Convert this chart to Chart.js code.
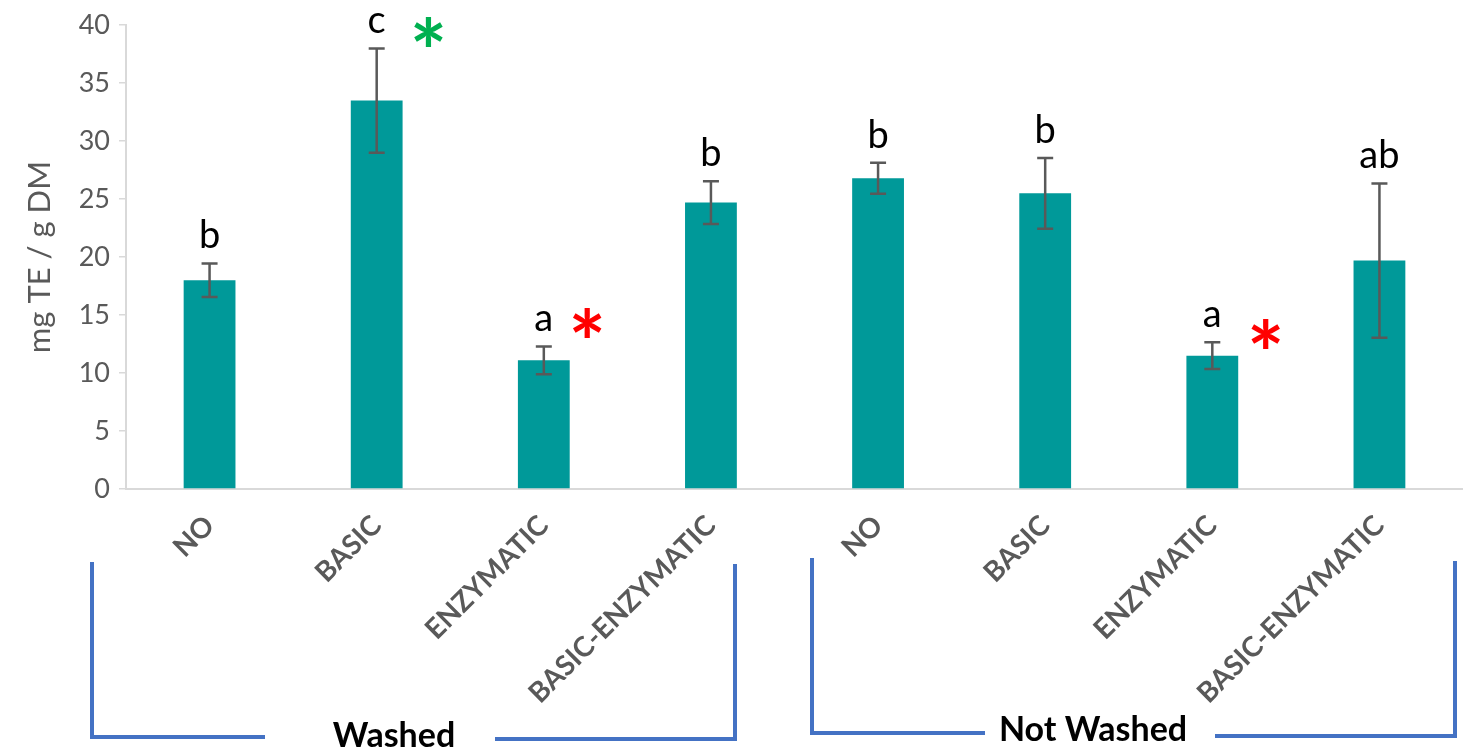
<!DOCTYPE html>
<html><head><meta charset="utf-8">
<script src="https://cdn.jsdelivr.net/npm/chart.js@4.4.1/dist/chart.umd.min.js"></script>
<style>html,body{margin:0;padding:0;background:#fff;overflow:hidden}
#wrap{position:relative;width:1463px;height:750px}</style>
</head><body><div id="wrap"><canvas id="c" width="1463" height="750"></canvas></div>
<script>
// ---- data ----
const categories = ['NO', 'BASIC', 'ENZYMATIC', 'BASIC-ENZYMATIC', 'NO', 'BASIC', 'ENZYMATIC', 'BASIC-ENZYMATIC'];
const means = [18.0, 33.5, 11.1, 24.7, 26.8, 25.5, 11.5, 19.7];
const errors = [1.45, 4.5, 1.2, 1.85, 1.33, 3.05, 1.15, 6.65];
const letters = ['b', 'c', 'a', 'b', 'b', 'b', 'a', 'ab'];
const yMin = 0, yMax = 40, yStep = 5;
const yTitle = 'mg TE / g DM';
const starIndex = [1, 2, 6];
const starValue = [39.4, 14.3, 13.4];
const starShift = [0.31, 0.26, 0.32];
const starColors = ['#00B050', '#FF0000', '#FF0000'];
const groupNames = ['Washed', 'Not Washed'];

const FONT = 'Lato';
const GREY = '#595959';

const annot = {
  id: 'annot',
  afterDatasetsDraw(chart) {
    const ctx = chart.ctx, xs = chart.scales.x, ys = chart.scales.y;
    ctx.save();
    // error bars
    ctx.strokeStyle = GREY; ctx.lineWidth = 2.5; ctx.lineCap = 'butt';
    means.forEach((m, i) => {
      const x = xs.getPixelForValue(i);
      const yt = ys.getPixelForValue(m + errors[i]);
      const yb = ys.getPixelForValue(m - errors[i]);
      ctx.beginPath();
      ctx.moveTo(x, yt); ctx.lineTo(x, yb);
      ctx.moveTo(x - 8, yt); ctx.lineTo(x + 8, yt);
      ctx.moveTo(x - 8, yb); ctx.lineTo(x + 8, yb);
      ctx.stroke();
    });
    // letters
    ctx.fillStyle = '#000'; ctx.font = '38px ' + FONT;
    ctx.textAlign = 'center'; ctx.textBaseline = 'alphabetic';
    letters.forEach((t, i) => {
      const x = xs.getPixelForValue(i);
      const yt = ys.getPixelForValue(means[i] + errors[i]);
      ctx.fillText(t, x, yt - 15);
    });
    // stars
    ctx.font = 'bold 88px ' + FONT;
    ctx.textAlign = 'center'; ctx.textBaseline = 'alphabetic';
    const m2 = ctx.measureText('*');
    const asc = m2.actualBoundingBoxAscent, desc = m2.actualBoundingBoxDescent;
    starIndex.forEach((ci, k) => {
      const cx = xs.getPixelForValue(ci + starShift[k]);
      const cy = ys.getPixelForValue(starValue[k]);
      ctx.fillStyle = starColors[k];
      ctx.fillText('*', cx, cy + (asc - desc) / 2);
    });
    // group brackets
    ctx.strokeStyle = '#4472C4'; ctx.lineWidth = 4; ctx.lineJoin = 'miter';
    const seg = (pts) => { ctx.beginPath(); ctx.moveTo(pts[0][0], pts[0][1]); for (let j = 1; j < pts.length; j++) ctx.lineTo(pts[j][0], pts[j][1]); ctx.stroke(); };
    seg([[92, 562], [92, 737], [265, 737]]);
    seg([[495, 739], [735, 739], [735, 564]]);
    seg([[812, 558], [812, 733], [985, 733]]);
    seg([[1215, 736], [1455, 736], [1455, 561]]);
    ctx.fillStyle = '#000'; ctx.font = 'bold 34px ' + FONT; ctx.textAlign = 'center'; ctx.textBaseline = 'alphabetic';
    ctx.fillText(groupNames[0], 394, 747);
    ctx.fillText(groupNames[1], 1093, 741);
    ctx.restore();
  }
};

function build() {
  new Chart(document.getElementById('c'), {
    type: 'bar',
    data: {
      labels: categories,
      datasets: [{ data: means, backgroundColor: '#009999', borderWidth: 0, barPercentage: 0.31, categoryPercentage: 1.0 }]
    },
    options: {
      responsive: false, devicePixelRatio: 1, animation: false,
      layout: { padding: { top: 23, left: 0, right: 0, bottom: 0 } },
      plugins: { legend: { display: false }, tooltip: { enabled: false } },
      scales: {
        x: {
          type: 'category', offset: true,
          grid: { display: false, drawTicks: false },
          border: { display: true, color: '#d9d9d9', width: 2 },
          ticks: { autoSkip: false, minRotation: 45, maxRotation: 45, color: GREY, padding: 20,
                   font: { family: FONT, weight: 'bold', size: 28 } },
          afterFit(s) { s.height = 261; }
        },
        y: {
          min: yMin, max: yMax,
          ticks: { stepSize: yStep, color: GREY, padding: 9, font: { family: FONT, size: 27 } },
          grid: { drawOnChartArea: false, drawTicks: true, tickLength: 7, color: '#d9d9d9', lineWidth: 1.5 },
          border: { display: true, color: '#d9d9d9', width: 2 },
          title: { display: true, text: yTitle, color: GREY, font: { family: FONT, size: 31 }, padding: { top: 21, bottom: 0 } },
          afterFit(s) { s.width = 126; }
        }
      }
    },
    plugins: [annot]
  });
}
const fl = document.fonts ? Promise.all([
  document.fonts.load('24px Lato'), document.fonts.load('bold 24px Lato')
]).catch(() => {}) : Promise.resolve();
fl.then(build, build);
</script></body></html>
